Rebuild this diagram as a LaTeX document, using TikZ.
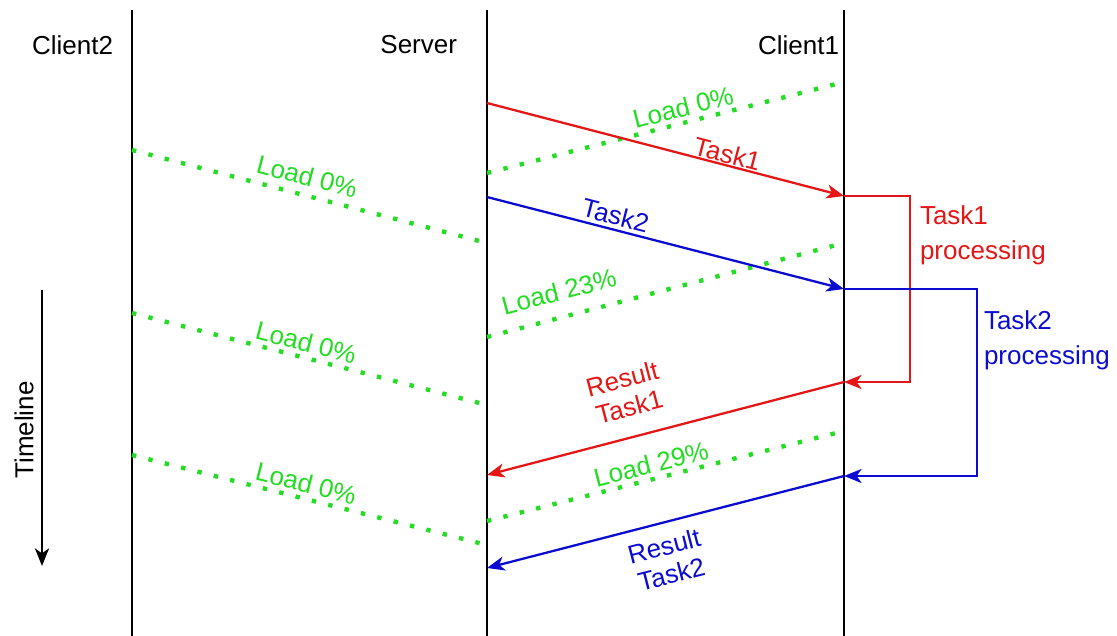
\documentclass[tikz,border=0pt]{standalone}
\usepackage{fontspec}
\setmainfont{Liberation Sans}
\usetikzlibrary{arrows.meta}
\definecolor{tred}{RGB}{228,22,22}
\definecolor{tblue}{RGB}{12,12,208}
\definecolor{tgreen}{RGB}{34,221,34}

\begin{document}
\begin{tikzpicture}[x=0.02cm, y=-0.02cm, line width=1.3pt,
  every node/.style={font=\fontsize{14.8}{19.5}\selectfont},
  msg/.style={-{Stealth[length=10pt, width=8pt, inset=2.8pt]}},
  load/.style={tgreen, line width=2.5pt, dash pattern=on 2.5pt off 7.1pt},
  lbl/.style={sloped, above, inner sep=2pt}]
        \useasboundingbox (0,0) rectangle (1117,636);

        % lifelines
        \node[anchor=east] (cl2) at (120,45) {Client2};
        \node[anchor=east] (srv) at (464,45) {Server};
        \node[anchor=east] (cl1) at (846,45) {Client1};
        \coordinate (c2top) at (132,10);
        \coordinate (c2bot) at (132,636);
        \coordinate (svtop) at (487,10);
        \coordinate (svbot) at (487,636);
        \coordinate (c1top) at (844,10);
        \coordinate (c1bot) at (844,636);
        \draw (c2top) -- (c2bot);
        \draw (svtop) -- (svbot);
        \draw (c1top) -- (c1bot);

        % load reports
        \coordinate (ga1) at (487,173);
        \coordinate (gb1) at (844,82);
        \coordinate (ga2) at (487,337);
        \coordinate (gb2) at (844,243);
        \coordinate (ga3) at (487,521);
        \coordinate (gb3) at (844,431);
        \coordinate (ha1) at (132,150);
        \coordinate (hb1) at (487,243);
        \coordinate (ha2) at (132,313);
        \coordinate (hb2) at (487,405);
        \coordinate (ha3) at (132,455);
        \coordinate (hb3) at (487,545);

        \path[every node/.style={font=\fontsize{14.8}{19.5}\selectfont, tgreen}]
        (ga1) edge[load] node[lbl, pos=0.56] {Load 0\%} (gb1)
        (ga2) edge[load] node[lbl, pos=0.22, yshift=6pt] {Load 23\%} (gb2)
        (ga3) edge[load] node[lbl, pos=0.47] {Load 29\%} (gb3)
        (ha1) edge[load] node[lbl, pos=0.48, yshift=2pt] {Load 0\%} (hb1)
        (ha2) edge[load] node[lbl, pos=0.48] {Load 0\%} (hb2)
        (ha3) edge[load] node[lbl, pos=0.48] {Load 0\%} (hb3);

        % tasks
        \coordinate (t1s) at (487,103);
        \coordinate (t1e) at (844,196);
        \coordinate (p1a) at (910,196);
        \coordinate (p1b) at (910,382);
        \coordinate (r1s) at (844,382);
        \coordinate (r1e) at (487,475);
        \coordinate (t2s) at (487,197);
        \coordinate (t2e) at (844,289);
        \coordinate (p2a) at (977,289);
        \coordinate (p2b) at (977,476);
        \coordinate (r2s) at (844,476);
        \coordinate (r2e) at (487,568);

        \draw[msg, tred] (t1s) -- node[lbl, pos=0.665, inner sep=0.5pt] {Task1} (t1e);
        \draw[msg, tred] (t1e) -- (p1a) -- (p1b) -- (r1s);
        \draw[msg, tred] (r1s) -- node[lbl, pos=0.58, align=center, yshift=9pt, font=\fontsize{14.8}{16.5}\selectfont] {Result\\Task1} (r1e);
        \draw[msg, tblue] (t2s) -- node[lbl, pos=0.35] {Task2} (t2e);
        \draw[msg, tblue] (t2e) -- (p2a) -- (p2b) -- (r2s);
        \draw[msg, tblue] (r2s) -- node[sloped, below, pos=0.52, align=center, inner sep=7pt, font=\fontsize{14.8}{16.5}\selectfont] {Result\\Task2} (r2e);

        \node[tred, anchor=north west, align=left] (p1lbl) at (913,199) {Task1\\processing};
        \node[tblue, anchor=north west, align=left] (p2lbl) at (977,304) {Task2\\processing};

        % time axis
        \coordinate (tl1) at (42,290);
        \coordinate (tl2) at (42,566);
        \draw[msg] (tl1) -- (tl2);
        \node[rotate=90] (tll) at (24,430) {Timeline};

    \end{tikzpicture}
\end{document}
